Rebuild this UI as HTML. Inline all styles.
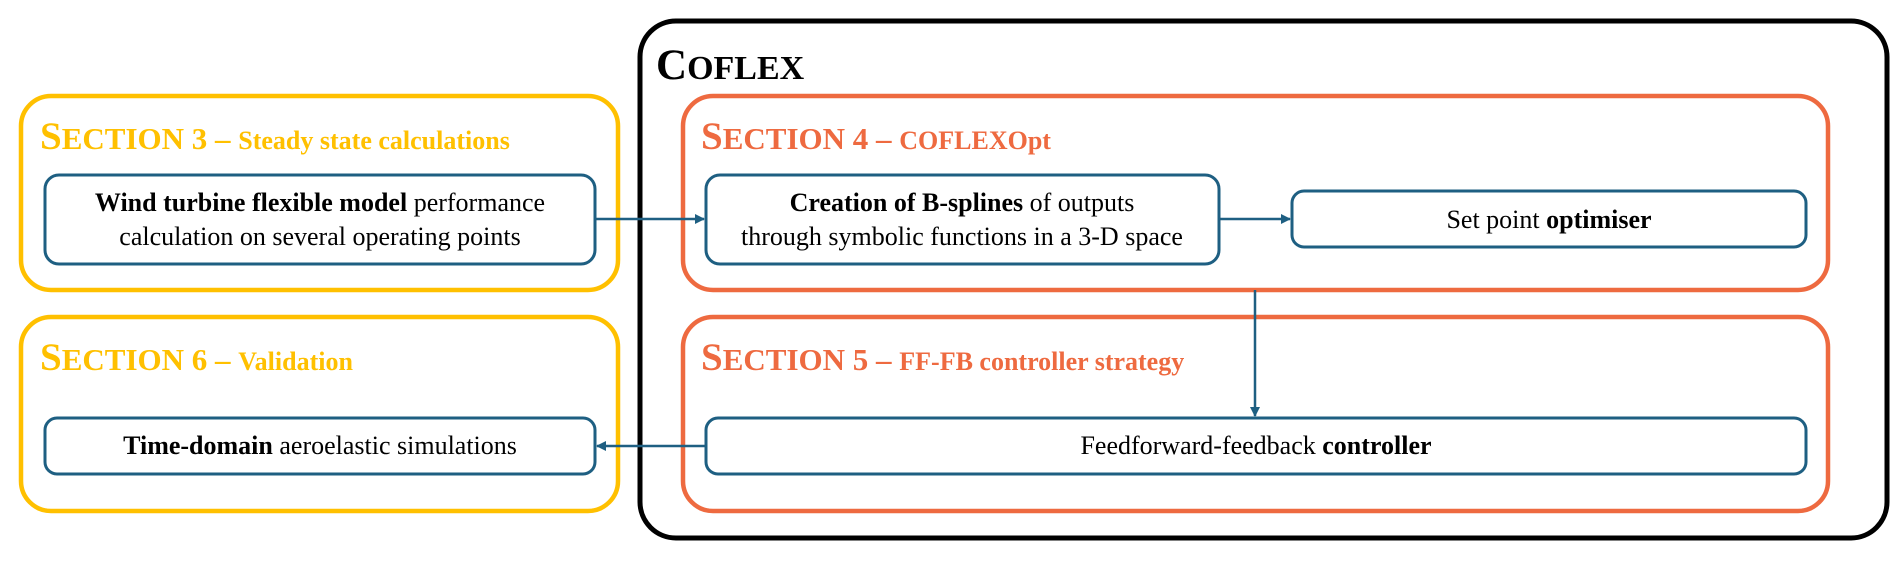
<!DOCTYPE html>
<html><head><meta charset="utf-8"><style>
html,body{margin:0;padding:0;background:#fff;}
svg{display:block;}
svg text{font-family:"Liberation Serif","Times New Roman","DejaVu Serif",serif !important;}
</style></head><body>
<svg width="1892" height="562" viewBox="0 0 1892 562" xmlns="http://www.w3.org/2000/svg" font-family="Liberation Serif, Times New Roman, DejaVu Serif, serif">
<defs>
<marker id="ah" markerWidth="10" markerHeight="10" refX="9" refY="5" orient="auto" markerUnits="userSpaceOnUse">
<path d="M0,0 L10,5 L0,10 z" fill="#1e5f82"/>
</marker>
</defs>
<rect x="640" y="21" width="1247" height="517" rx="36" fill="none" stroke="#000" stroke-width="5"/>
<text x="656" y="79" font-size="43" font-weight="bold">C<tspan font-size="34">OFLEX</tspan></text>

<rect x="21" y="96" width="597" height="194" rx="30" fill="none" stroke="#ffc000" stroke-width="4.5"/>
<text x="40" y="149" font-size="39" font-weight="bold" fill="#ffc000">S<tspan font-size="31">ECTION 3 – </tspan><tspan font-size="26">Steady state calculations</tspan></text>
<rect x="45" y="175" width="550" height="89" rx="14" fill="none" stroke="#1e5f82" stroke-width="3"/>
<text x="320" y="211" font-size="26" text-anchor="middle"><tspan font-weight="bold">Wind turbine flexible model</tspan> performance</text>
<text x="320" y="245" font-size="26" text-anchor="middle">calculation on several operating points</text>

<rect x="21" y="317" width="597" height="194" rx="30" fill="none" stroke="#ffc000" stroke-width="4.5"/>
<text x="40" y="370" font-size="39" font-weight="bold" fill="#ffc000">S<tspan font-size="31">ECTION 6 – </tspan><tspan font-size="26">Validation</tspan></text>
<rect x="45" y="418" width="550" height="56" rx="12" fill="none" stroke="#1e5f82" stroke-width="3"/>
<text x="320" y="454" font-size="26" text-anchor="middle"><tspan font-weight="bold">Time-domain</tspan> aeroelastic simulations</text>

<rect x="683" y="96" width="1145" height="194" rx="30" fill="none" stroke="#ee6a40" stroke-width="4.5"/>
<text x="701" y="149" font-size="39" font-weight="bold" fill="#ee6a40">S<tspan font-size="31">ECTION 4 – </tspan><tspan font-size="26">COFLEXOpt</tspan></text>
<rect x="706" y="175" width="513" height="89" rx="14" fill="none" stroke="#1e5f82" stroke-width="3"/>
<text x="962" y="211" font-size="26" text-anchor="middle"><tspan font-weight="bold">Creation of B-splines</tspan> of outputs</text>
<text x="962" y="245" font-size="26" text-anchor="middle">through symbolic functions in a 3-D space</text>
<rect x="1292" y="191" width="514" height="56" rx="12" fill="none" stroke="#1e5f82" stroke-width="3"/>
<text x="1549" y="228" font-size="26" text-anchor="middle">Set point <tspan font-weight="bold">optimiser</tspan></text>

<rect x="683" y="317" width="1145" height="194" rx="30" fill="none" stroke="#ee6a40" stroke-width="4.5"/>
<text x="701" y="370" font-size="39" font-weight="bold" fill="#ee6a40">S<tspan font-size="31">ECTION 5 – </tspan><tspan font-size="26">FF-FB controller strategy</tspan></text>
<rect x="706" y="418" width="1100" height="56" rx="12" fill="none" stroke="#1e5f82" stroke-width="3"/>
<text x="1256" y="454" font-size="26" text-anchor="middle">Feedforward-feedback <tspan font-weight="bold">controller</tspan></text>

<line x1="595" y1="219" x2="704" y2="219" stroke="#1e5f82" stroke-width="2.5" marker-end="url(#ah)"/>
<line x1="1219" y1="219" x2="1290" y2="219" stroke="#1e5f82" stroke-width="2.5" marker-end="url(#ah)"/>
<line x1="1255" y1="290" x2="1255" y2="416" stroke="#1e5f82" stroke-width="2.5" marker-end="url(#ah)"/>
<line x1="706" y1="446" x2="597" y2="446" stroke="#1e5f82" stroke-width="2.5" marker-end="url(#ah)"/>
</svg>
</body></html>
